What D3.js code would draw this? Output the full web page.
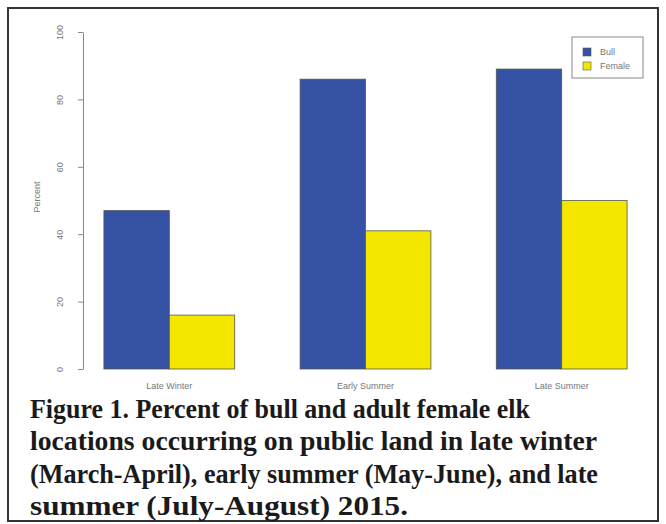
<!DOCTYPE html>
<html><head><meta charset="utf-8">
<script src="https://cdn.jsdelivr.net/npm/d3@7"></script>
<style>body{margin:0;background:#fff}svg{display:block}</style>
</head><body>
<svg id="c" width="666" height="524"></svg>
<script>
const categories = ["Late Winter", "Early Summer", "Late Summer"];
const seriesNames = ["Bull", "Female"];
const bullValues = [47, 86, 89];
const femaleValues = [16, 41, 50];
const yTicks = [0, 20, 40, 60, 80, 100];
const colors = ["#3551a3", "#f3e700"];
const captionLines = [
  "Figure 1. Percent of bull and adult female elk",
  "locations occurring on public land in late winter",
  "(March-April), early summer (May-June), and late",
  "summer (July-August) 2015."
];
const captionWidths = [500, 567, 568, 378];

const svg = d3.select("#c");
svg.append("rect").attr("x", 8).attr("y", 8).attr("width", 650).attr("height", 513)
  .attr("fill", "#fff").attr("stroke", "#333").attr("stroke-width", 2);

// R barplot-style positions: each bar 1 unit, 1 unit space before each group
const x = d3.scaleLinear().domain([0.68, 9.32]).range([83, 648]);
const y = d3.scaleLinear().domain([0, 100]).range([369, 32]);

const series = [bullValues, femaleValues];
const bars = [];
categories.forEach((c, i) => {
  series.forEach((vals, j) => {
    bars.push({cat: c, s: j, v: vals[i], left: 1 + i * 3 + j});
  });
});

svg.append("g").selectAll("rect").data(bars).join("rect")
  .attr("x", d => x(d.left))
  .attr("width", d => x(d.left + 1) - x(d.left))
  .attr("y", d => y(d.v))
  .attr("height", d => y(0) - y(d.v))
  .attr("fill", d => colors[d.s])
  .attr("stroke", "#555").attr("stroke-width", 0.8);

// Y axis
const yAxis = d3.axisLeft(y).tickValues(yTicks).tickSize(5).tickSizeOuter(0).tickFormat(d3.format("d"));
const ga = svg.append("g").attr("transform", "translate(83,0)").call(yAxis);
ga.select(".domain").attr("stroke", "#888");
ga.selectAll(".tick line").attr("stroke", "#888");
ga.selectAll(".tick text")
  .attr("font-family", "Liberation Sans, Arial, sans-serif").attr("font-size", 9).attr("fill", "#777")
  .attr("x", 0).attr("dy", 0)
  .attr("text-anchor", "middle")
  .attr("transform", "translate(-20,0) rotate(-90)");

svg.append("text").attr("transform", "translate(40,197) rotate(-90)")
  .attr("text-anchor", "middle").attr("font-family", "Liberation Sans, Arial, sans-serif")
  .attr("font-size", 9).attr("fill", "#777").text("Percent");

// Category labels
svg.append("g").selectAll("text").data(categories).join("text")
  .attr("x", (d, i) => x(2 + i * 3)).attr("y", 389)
  .attr("text-anchor", "middle").attr("font-family", "Liberation Sans, Arial, sans-serif")
  .attr("font-size", 9).attr("fill", "#777").text(d => d);

// Legend
const lg = svg.append("g");
lg.append("rect").attr("x", 572).attr("y", 37).attr("width", 71).attr("height", 41)
  .attr("fill", "#fff").attr("stroke", "#888").attr("stroke-width", 1);
seriesNames.forEach((n, j) => {
  lg.append("rect").attr("x", 583).attr("y", 48 + j * 14).attr("width", 8).attr("height", 8)
    .attr("fill", colors[j]).attr("stroke", "#555").attr("stroke-width", 0.6);
  lg.append("text").attr("x", 600).attr("y", 55 + j * 14)
    .attr("font-family", "Liberation Sans, Arial, sans-serif").attr("font-size", 9)
    .attr("fill", "#777").text(n);
});

// Caption
svg.append("g").selectAll("text").data(captionLines).join("text")
  .attr("x", 30).attr("y", (d, i) => 418 + i * 32.3)
  .attr("font-family", "Liberation Serif, Times New Roman, serif")
  .attr("font-weight", "bold").attr("font-size", 27).attr("fill", "#1a1a1a")
  .attr("textLength", (d, i) => captionWidths[i]).attr("lengthAdjust", "spacingAndGlyphs")
  .text(d => d);
</script>
</body></html>
